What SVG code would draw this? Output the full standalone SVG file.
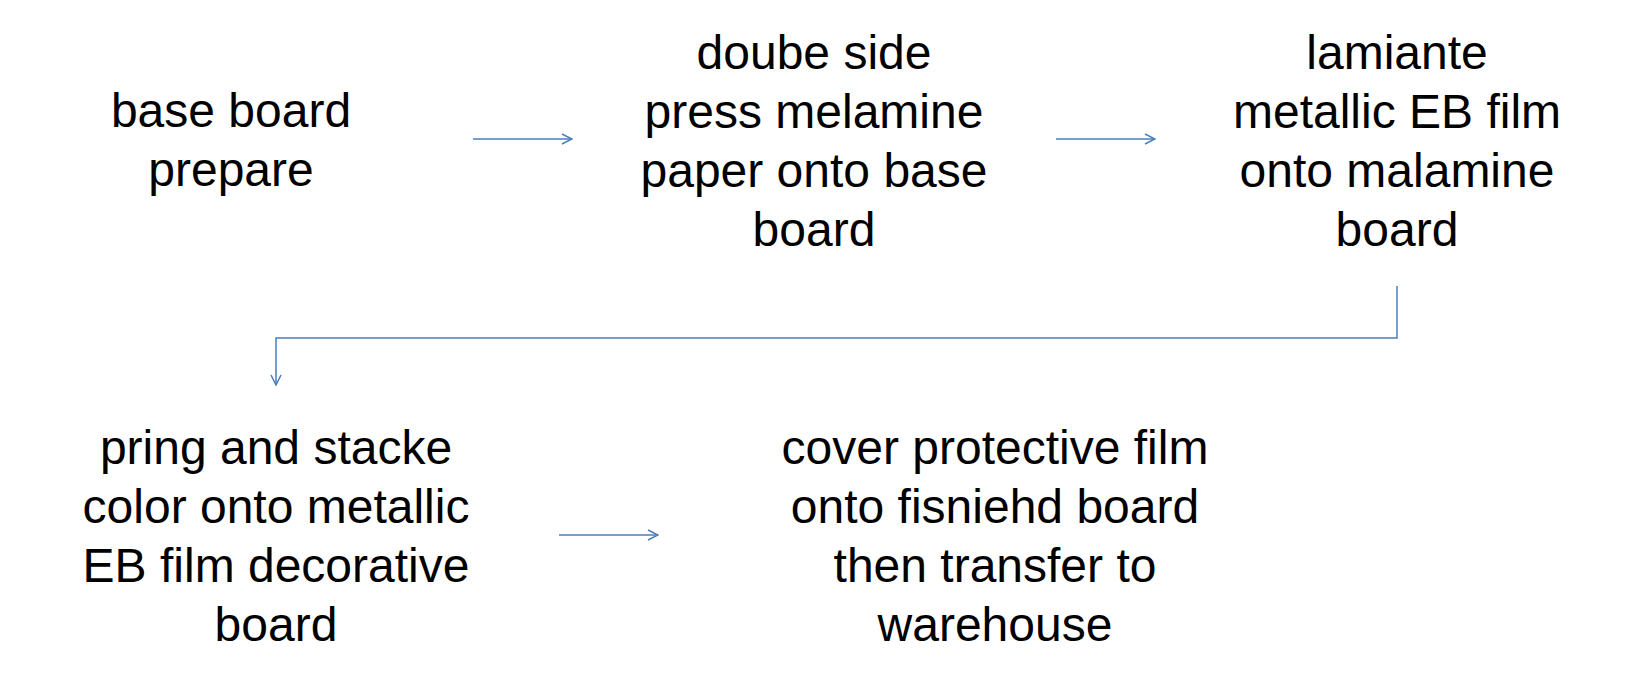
<svg xmlns="http://www.w3.org/2000/svg" width="1629" height="678" viewBox="0 0 1629 678">
<style>
text{font-family:"Liberation Sans",Arial,sans-serif;font-size:48px;fill:#000;text-anchor:middle}
.c{stroke:#4a7ebb;stroke-width:1.5;fill:none}
</style>
<defs><marker id="a" viewBox="0 0 12 12" refX="11" refY="6" markerWidth="12" markerHeight="12" markerUnits="userSpaceOnUse" orient="auto"><path d="M1,1 L11,6 L1,11" fill="none" stroke="#4a7ebb" stroke-width="1.5"/></marker></defs>
<rect width="1629" height="678" fill="#fff"/>
<g id="n1"><text x="231" y="127">base board</text><text x="231" y="186">prepare</text></g>
<g id="n2"><text x="814" y="69">doube side</text><text x="814" y="128">press melamine</text><text x="814" y="187">paper onto base</text><text x="814" y="246">board</text></g>
<g id="n3"><text x="1397" y="69">lamiante</text><text x="1397" y="128">metallic EB film</text><text x="1397" y="187">onto malamine</text><text x="1397" y="246">board</text></g>
<g id="n4"><text x="276" y="464">pring and stacke</text><text x="276" y="523">color onto metallic</text><text x="276" y="582">EB film decorative</text><text x="276" y="641">board</text></g>
<g id="n5"><text x="995" y="464">cover protective film</text><text x="995" y="523">onto fisniehd board</text><text x="995" y="582">then transfer to</text><text x="995" y="641">warehouse</text></g>
<g id="connectors">
<path class="c" d="M473,139 H572" marker-end="url(#a)"/>
<path class="c" d="M1056,139 H1155" marker-end="url(#a)"/>
<path class="c" d="M1397,286 V338 H276 V385" marker-end="url(#a)"/>
<path class="c" d="M559,535 H658" marker-end="url(#a)"/>
</g>
</svg>
